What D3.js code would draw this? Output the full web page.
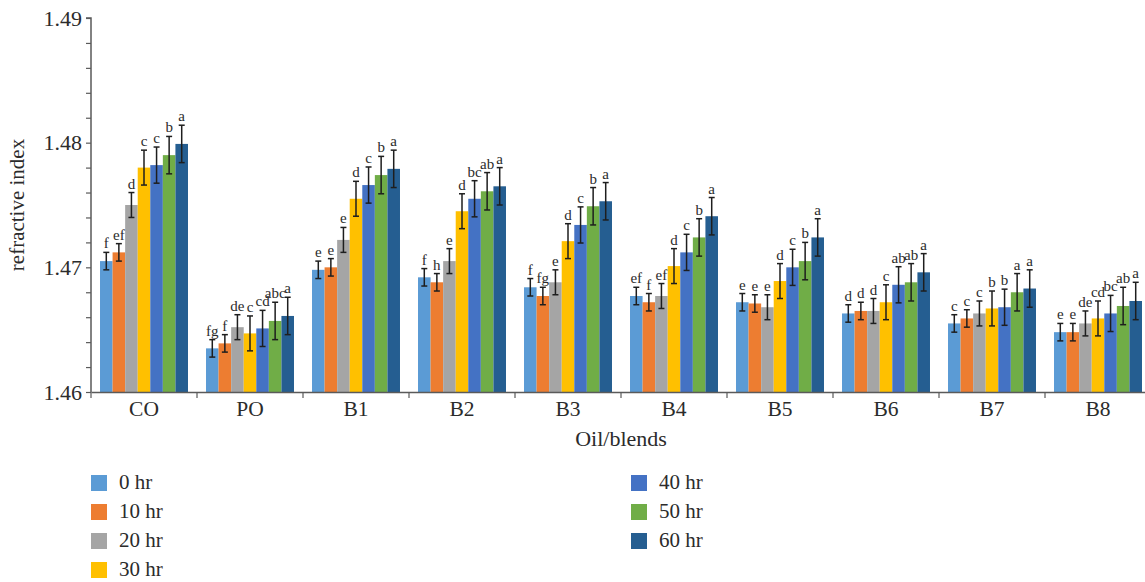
<!DOCTYPE html>
<html>
<head>
<meta charset="utf-8">
<script src="https://cdn.jsdelivr.net/npm/d3@7"></script>
<style>
  html, body { margin: 0; padding: 0; background: #fff; }
  svg { display: block; font-family: "Liberation Serif", "DejaVu Serif", serif; }
</style>
</head>
<body>
<svg id="chart" width="1145" height="582"></svg>
<script>
// Oils / blends on the x axis
const categories = ["CO", "PO", "B1", "B2", "B3", "B4", "B5", "B6", "B7", "B8"];
// Heating times (one bar per time inside each group)
const seriesNames = ["0 hr", "10 hr", "20 hr", "30 hr", "40 hr", "50 hr", "60 hr"];
const seriesColors = ["#5B9BD5", "#ED7D31", "#A5A5A5", "#FFC000", "#4472C4", "#70AD47", "#255E91"];

// Refractive index per series, in category order
const values0  = [1.4705, 1.4635, 1.4698, 1.4692, 1.4684, 1.4677, 1.4672, 1.4663, 1.4655, 1.4648];
const values10 = [1.4712, 1.4639, 1.4700, 1.4688, 1.4677, 1.4672, 1.4671, 1.4665, 1.4659, 1.4648];
const values20 = [1.4750, 1.4652, 1.4722, 1.4705, 1.4688, 1.4677, 1.4668, 1.4665, 1.4663, 1.4655];
const values30 = [1.4780, 1.4647, 1.4755, 1.4745, 1.4721, 1.4701, 1.4689, 1.4672, 1.4667, 1.4659];
const values40 = [1.4782, 1.4651, 1.4766, 1.4755, 1.4734, 1.4712, 1.4700, 1.4686, 1.4668, 1.4663];
const values50 = [1.4790, 1.4657, 1.4774, 1.4761, 1.4749, 1.4724, 1.4705, 1.4688, 1.4680, 1.4669];
const values60 = [1.4799, 1.4661, 1.4779, 1.4765, 1.4753, 1.4741, 1.4724, 1.4696, 1.4683, 1.4673];
const seriesValues = [values0, values10, values20, values30, values40, values50, values60];

// Error (± standard deviation) for each series
const seriesErrors = [0.0007, 0.0007, 0.0010, 0.0014, 0.00145, 0.0015, 0.0015];

// Significance letters, per category, in series order
const letters = [
  ["f", "ef", "d", "c", "c", "b", "a"],
  ["fg", "f", "de", "c", "cd", "abc", "a"],
  ["e", "e", "e", "d", "c", "b", "a"],
  ["f", "h", "e", "d", "bc", "ab", "a"],
  ["f", "fg", "e", "d", "c", "b", "a"],
  ["ef", "f", "ef", "d", "c", "b", "a"],
  ["e", "e", "e", "d", "c", "b", "a"],
  ["d", "d", "d", "c", "ab", "ab", "a"],
  ["c", "c", "c", "b", "b", "a", "a"],
  ["e", "e", "de", "cd", "bc", "ab", "a"]
];

const yMajorTicks = [1.46, 1.47, 1.48, 1.49];
const yDomain = [1.46, 1.49];

const svg = d3.select("#chart");
const plotLeft = 91, plotRight = 1151, plotTop = 18, plotBottom = 392;

const x0 = d3.scaleBand().domain(categories).range([plotLeft, plotRight]).padding(0);
const x1 = d3.scaleBand().domain(seriesNames)
  .range([x0.bandwidth() * 0.085, x0.bandwidth() * 0.915]).padding(0);
const y = d3.scaleLinear().domain(yDomain).range([plotBottom, plotTop]);

const axisColor = "#5a5a5a";
const textColor = "#2b2b2b";

// Bars
const groups = svg.append("g").selectAll("g")
  .data(categories)
  .join("g")
  .attr("transform", d => `translate(${x0(d)},0)`);

const barData = (c, ci) => seriesNames.map((s, si) => ({
  cat: c, ci, series: s, si,
  value: seriesValues[si][ci],
  err: seriesErrors[si],
  letter: letters[ci][si]
}));

groups.each(function (c, ci) {
  const g = d3.select(this);
  const data = barData(c, ci);
  g.selectAll("rect")
    .data(data)
    .join("rect")
    .attr("x", d => x1(d.series))
    .attr("y", d => y(d.value))
    .attr("width", x1.bandwidth())
    .attr("height", d => y(yDomain[0]) - y(d.value))
    .attr("fill", d => seriesColors[d.si]);

  // Error bars
  const eb = g.selectAll("g.err").data(data).join("g").attr("class", "err")
    .attr("stroke", "#1e1e1e").attr("stroke-width", 1.5);
  const cx = d => x1(d.series) + x1.bandwidth() / 2;
  eb.append("line")
    .attr("x1", cx).attr("x2", cx)
    .attr("y1", d => y(d.value + d.err)).attr("y2", d => y(d.value - d.err));
  eb.append("line")
    .attr("x1", d => cx(d) - 3).attr("x2", d => cx(d) + 3)
    .attr("y1", d => y(d.value + d.err)).attr("y2", d => y(d.value + d.err));
  eb.append("line")
    .attr("x1", d => cx(d) - 3).attr("x2", d => cx(d) + 3)
    .attr("y1", d => y(d.value - d.err)).attr("y2", d => y(d.value - d.err));

  // Letters above error bars
  g.selectAll("text.letter").data(data).join("text")
    .attr("class", "letter")
    .attr("x", cx)
    .attr("y", d => y(d.value + d.err) - 4)
    .attr("text-anchor", "middle")
    .attr("font-size", 15)
    .attr("fill", textColor)
    .text(d => d.letter);
});

// Y axis
const yMinorTicks = d3.range(0, 16).map(i => +(1.46 + i * 0.002).toFixed(3));
const yAxis = d3.axisLeft(y)
  .tickValues(yMinorTicks)
  .tickSize(5)
  .tickFormat(d => yMajorTicks.some(t => Math.abs(t - d) < 1e-9) ? d3.format(".2f")(d) : "");
const yG = svg.append("g").attr("transform", `translate(${plotLeft},0)`).call(yAxis);
yG.select(".domain").attr("stroke", axisColor).attr("stroke-width", 1.5).attr("d", `M-5,${plotTop}H0V${plotBottom}`);
yG.selectAll(".tick line").attr("stroke", axisColor).attr("stroke-width", 1.2);
yG.selectAll(".tick text").attr("font-size", 22).attr("fill", textColor)
  .attr("font-family", "Liberation Serif, serif").attr("x", -9);

// X axis with ticks between groups
const xAxis = d3.axisBottom(x0).tickSize(0).tickSizeOuter(0);
const xG = svg.append("g").attr("transform", `translate(0,${plotBottom})`).call(xAxis);
xG.select(".domain").attr("stroke", axisColor).attr("stroke-width", 1.5);
xG.selectAll(".tick text").attr("font-size", 21.5).attr("fill", textColor)
  .attr("font-family", "Liberation Serif, serif").attr("dy", 0).attr("y", 24);
xG.selectAll("line.sep")
  .data(categories.map(c => x0(c)).concat([plotRight]))
  .join("line").attr("class", "sep")
  .attr("x1", d => d).attr("x2", d => d)
  .attr("y1", 0).attr("y2", 6)
  .attr("stroke", axisColor).attr("stroke-width", 1.2);

// Axis titles
svg.append("text")
  .attr("x", (plotLeft + plotRight) / 2).attr("y", 446)
  .attr("text-anchor", "middle").attr("font-size", 22).attr("fill", textColor)
  .text("Oil/blends");
svg.append("text")
  .attr("transform", `translate(24,${(plotTop + plotBottom) / 2}) rotate(-90)`)
  .attr("text-anchor", "middle").attr("font-size", 21).attr("fill", textColor)
  .text("refractive index");

// Legend: two columns
const legendCols = [[0, 1, 2, 3], [4, 5, 6]];
const legendX = [91, 631];
const legendY0 = 483, legendStep = 29;
legendCols.forEach((col, k) => {
  const lg = svg.append("g").selectAll("g").data(col).join("g")
    .attr("transform", (d, i) => `translate(${legendX[k]},${legendY0 + i * legendStep})`);
  lg.append("rect").attr("x", 0).attr("y", -8).attr("width", 16).attr("height", 16)
    .attr("fill", d => seriesColors[d]);
  lg.append("text").attr("x", 28).attr("y", 6).attr("font-size", 21).attr("fill", textColor)
    .text(d => seriesNames[d]);
});
</script>
</body>
</html>
